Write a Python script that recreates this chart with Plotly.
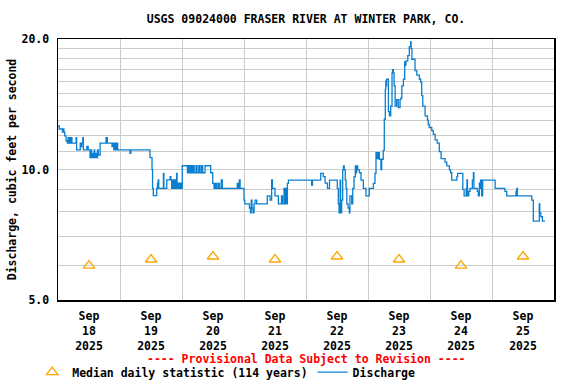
import pandas as pd
import plotly.graph_objects as go

# ---- data ----
# Discharge: breakpoints (hours after 2025-09-18 00:00) and values (cfs), step series
hours = [
    0.0, 0.5, 1.7, 2.0, 2.3, 2.6, 3.1, 3.6, 3.9, 4.1, 4.6, 4.8, 5.2, 5.4, 7.0, 7.2,
    8.6, 8.9, 9.2, 9.6, 9.8, 11.2, 11.7, 12.4, 12.7, 13.0, 13.3, 13.6, 14.0, 14.2,
    14.6, 15.0, 15.3, 15.6, 16.3, 18.6, 19.1, 20.9, 21.2, 21.6, 21.9, 22.3, 22.6,
    23.1, 27.9, 28.2, 35.6, 36.4, 36.6, 36.9, 38.2, 38.5, 38.8, 39.0, 40.8, 41.0,
    42.1, 43.4, 43.7, 44.0, 44.4, 44.8, 45.2, 45.5, 45.9, 46.1, 46.6, 47.0, 47.4,
    47.8, 48.1, 50.1, 50.5, 50.9, 51.4, 51.8, 52.3, 52.7, 53.4, 53.8, 54.5, 54.9,
    55.5, 56.0, 56.9, 59.1, 59.9, 60.4, 60.9, 61.4, 62.0, 62.5, 63.2, 63.6, 69.4,
    69.8, 70.2, 70.5, 72.0, 72.3, 74.1, 74.5, 74.8, 75.1, 75.5, 75.9, 76.3, 76.9,
    81.0, 82.1, 82.7, 83.0, 84.0, 85.3, 86.5, 86.9, 87.5, 87.9, 88.3, 88.6, 88.8,
    89.2, 98.2, 98.5, 101.7, 102.7, 103.4, 104.3, 105.1, 108.1, 108.5, 108.8,
    109.2, 109.4, 109.8, 110.2, 110.5, 110.8, 111.2, 111.5, 111.8, 112.3, 112.8,
    113.0, 113.7, 114.1, 114.6, 115.1, 115.4, 115.6, 116.0, 116.7, 117.3, 118.2,
    119.2, 120.5, 122.1, 122.7, 123.1, 123.6, 123.9, 124.4, 125.0, 125.3, 125.9,
    126.3, 126.7, 126.9, 127.0, 127.2, 127.9, 128.3, 128.8, 129.3, 129.5, 129.8,
    130.1, 130.5, 131.1, 131.7, 132.4, 132.7, 133.1, 133.7, 134.2, 134.5, 134.7,
    135.4, 136.0, 136.5, 136.7, 137.0, 138.2, 138.9, 139.9, 140.4, 140.8, 141.2,
    142.1, 143.0, 143.3, 143.7, 144.7, 145.3, 146.0, 146.8, 147.6, 148.3, 149.8,
    150.5, 151.5, 152.0, 152.4, 154.4, 154.7, 156.7, 157.2, 158.0, 158.3, 158.5,
    159.0, 159.5, 160.4, 160.8, 161.0, 162.3, 162.7, 163.1, 163.3, 163.6, 164.0,
    164.4, 169.2, 173.0, 173.7, 177.3, 177.6, 177.8, 183.4, 184.0, 186.3, 186.5,
    186.9, 187.5, 188.5,
]
discharge = [
    12.6, 12.4, 12.2, 12.4, 12.2, 11.95, 11.65, 11.5, 11.85, 11.5, 11.85, 11.5, 11.85, 11.5, 11.85, 11.1,
    11.5, 11.3, 11.5, 11.85, 11.1, 11.3, 11.1, 10.65, 11.1, 10.65, 10.9, 10.65, 11.1, 10.65,
    10.9, 10.65, 11.1, 10.8, 11.5, 11.85, 11.5, 11.3, 11.5, 11.1, 11.5, 11.1, 11.5,
    11.1, 10.9, 11.1, 10.65, 10.0, 9.05, 8.7, 9.05, 9.3, 9.46, 9.05, 9.8, 9.05,
    9.46, 9.63, 9.46, 9.05, 9.46, 9.05, 9.46, 9.05, 9.8, 9.05, 9.3, 9.05, 9.3,
    9.05, 10.2, 9.83, 10.2, 9.83, 10.2, 9.83, 10.2, 9.83, 10.2, 9.83, 10.2, 9.83,
    10.2, 9.83, 10.2, 9.83, 9.29, 9.05, 9.29, 9.05, 9.29, 9.05, 9.46, 9.05, 9.29,
    9.05, 9.46, 9.05, 8.5, 8.33, 8.15, 7.94, 8.5, 8.15, 7.94, 8.33, 8.5, 8.33,
    8.69, 8.5, 9.46, 9.05, 8.69, 8.33, 8.69, 8.33, 9.05, 8.33, 9.05, 8.33, 9.29,
    9.45, 9.2, 9.45, 9.8, 9.63, 9.3, 9.05, 9.45, 9.05, 8.33, 7.94,
    9.45, 7.94, 8.5, 9.98, 10.19, 9.98, 9.45, 9.05, 8.33, 8.15, 7.94,
    8.69, 8.33, 9.05, 9.63, 10.19, 9.83, 10.19, 9.98, 9.83, 9.45, 9.05,
    8.69, 9.05, 9.29, 9.8, 10.94, 10.6, 10.94, 10.56, 10.0, 10.56, 11.07,
    13.06, 15.3, 16.0, 15.6, 16.15, 13.6, 13.3, 14.0, 16.7, 17.0, 16.7,
    15.6, 14.0, 14.5, 13.9, 14.5, 14.6, 15.6, 16.15, 17.7, 17.4, 17.8,
    18.3, 19.2, 19.7, 19.0, 17.96, 16.9, 16.5, 16.15, 15.9, 14.8, 14.0,
    13.3, 13.0, 12.7, 12.5, 12.3, 12.05, 11.7, 11.5, 11.0, 10.6, 10.4,
    10.19, 9.98, 9.83, 9.45, 9.63, 9.8, 9.0, 8.69, 9.05, 9.46, 8.69,
    8.9, 9.05, 9.45, 9.83, 9.05, 8.9, 8.69, 9.3, 9.05, 9.45, 8.69,
    9.45, 9.05, 8.9, 8.69, 8.9, 9.05, 8.69, 8.5, 7.6, 8.33, 7.94,
    7.78, 7.6, 7.6,
]

# Median daily statistic (114 years), one per day at noon
median_days = ["2025-09-18", "2025-09-19", "2025-09-20", "2025-09-21",
               "2025-09-22", "2025-09-23", "2025-09-24", "2025-09-25"]
median_values = [6.0, 6.2, 6.3, 6.2, 6.3, 6.2, 6.0, 6.3]

y_tick_values = list(range(5, 21))
y_tick_labels = {5: "5.0", 10: "10.0", 20: "20.0"}

title_text = "USGS 09024000 FRASER RIVER AT WINTER PARK, CO."
y_title = "Discharge, cubic feet per second"
provisional_text = "---- Provisional Data Subject to Revision ----"

# ---- figure ----
FONT = dict(family="DejaVu Sans Mono", size=11.5, color="black", weight="bold")
start = pd.Timestamp("2025-09-18")
times = start + pd.to_timedelta(hours, unit="h")
median_times = pd.to_datetime(median_days) + pd.Timedelta(hours=12)

fig = go.Figure()
fig.add_trace(go.Scatter(
    x=median_times, y=median_values, mode="markers",
    name="Median daily statistic (114 years)",
    marker=dict(symbol="triangle-up-open", size=10, color="#ffa500",
                line=dict(width=1.3, color="#ffa500")),
))
fig.add_trace(go.Scatter(
    x=times, y=discharge, mode="lines", name="Discharge",
    line=dict(color="#0a7fd0", width=1.3, shape="hv"),
))

fig.update_layout(
    width=576, height=384,
    margin=dict(l=58, r=22, t=39, b=84, autoexpand=False),
    paper_bgcolor="white", plot_bgcolor="white",
    font=FONT,
    title=dict(text=title_text, x=0.5, xref="paper", y=1 - 19 / 384,
               yref="container", xanchor="center", yanchor="middle", font=FONT),
    showlegend=True,
    legend=dict(orientation="h", x=-0.052, xanchor="left", y=-0.276,
                yanchor="middle", font=FONT, bgcolor="rgba(0,0,0,0)",
                itemclick=False, traceorder="normal"),
)

fig.update_xaxes(
    type="date",
    range=[start, start + pd.Timedelta(days=8)],
    dtick=86400000, tick0=start, ticklabelmode="period",
    tickformat="%b<br>%d<br>%Y",
    showgrid=True, gridcolor="#cccccc", gridwidth=1,
    showline=True, linecolor="black", linewidth=1.5, mirror=True,
    ticks="", ticklabelstandoff=5, zeroline=False, automargin=False,
    tickfont=FONT,
)
fig.update_yaxes(
    type="log",
    range=[0.69897, 1.30103],
    tickmode="array", tickvals=y_tick_values,
    ticktext=[y_tick_labels.get(v, "") for v in y_tick_values],
    showgrid=True, gridcolor="#cccccc", gridwidth=1,
    showline=True, linecolor="black", linewidth=1.5, mirror=True,
    ticks="", ticklabelstandoff=5, zeroline=False, automargin=False,
    tickfont=FONT,
    title=dict(text=y_title, font=FONT, standoff=2),
)

fig.add_annotation(
    text=provisional_text, xref="paper", yref="paper",
    x=0.5, y=(300 - 359) / 261, xanchor="center", yanchor="middle",
    showarrow=False, font=dict(family="DejaVu Sans Mono", size=11.5,
                               color="#ff0000", weight="bold"),
)

fig.write_html("out.html",
               config={"displayModeBar": False, "staticPlot": True},
               post_script="document.body.style.margin='0';"
                           "document.body.style.padding='0';")
